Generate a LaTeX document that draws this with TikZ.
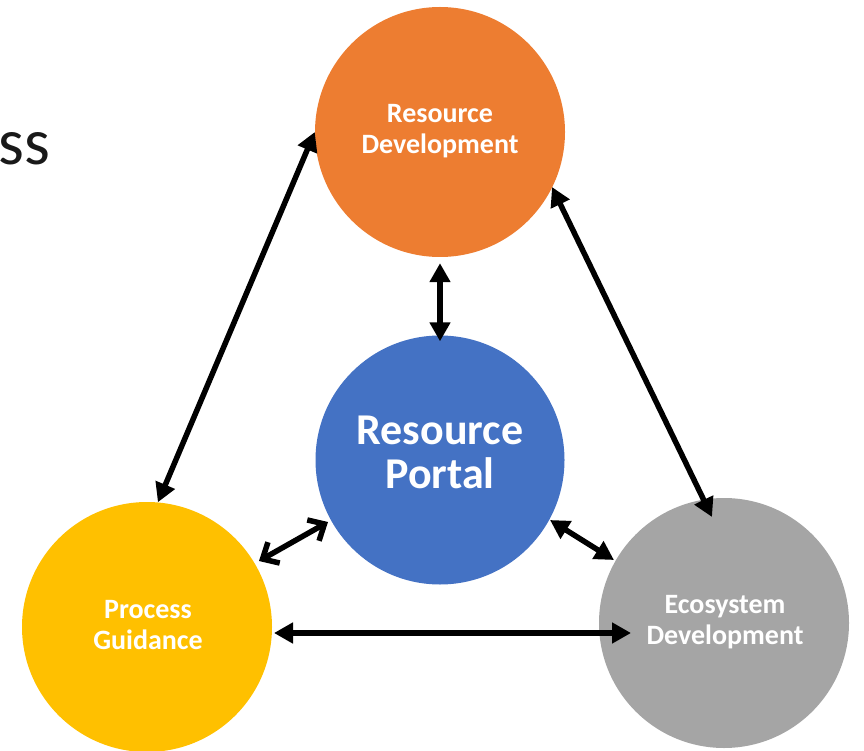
\documentclass[tikz,border=0pt]{standalone}
\usepackage{fontspec}
\setmainfont{Carlito}
\usetikzlibrary{arrows.meta,calc}
\definecolor{cOrange}{HTML}{ED7D31}
\definecolor{cBlue}{HTML}{4472C4}
\definecolor{cYellow}{HTML}{FFC000}
\definecolor{cGray}{HTML}{A5A5A5}
\tikzset{
  bubble/.style={circle,inner sep=0pt,minimum size=250pt,draw=none},
  lbl/.style={text=white,font=\bfseries\fontsize{28}{31}\selectfont,align=center,inner sep=0pt},
  biglbl/.style={text=white,font=\bfseries\fontsize{44}{44}\selectfont,align=center,inner sep=0pt},
  link/.style={line width=5.5pt,{Triangle[length=19pt,width=20pt]}-{Triangle[length=19pt,width=20pt]}},
  openlink/.style={line width=5.5pt,line cap=round,{Straight Barb[length=13pt,width=24pt,line width=5.5pt]}-{Straight Barb[length=13pt,width=24pt,line width=5.5pt]}}
}
\begin{document}
\begin{tikzpicture}[x=1pt,y=-1pt]
\useasboundingbox (0,0) rectangle (864,751);
\node[bubble,fill=cOrange] (orange) at (440,132) {};
\node[bubble,fill=cBlue,minimum size=249pt] (blue) at (440,460) {};
\node[bubble,fill=cYellow] (yellow) at (147,627) {};
\node[bubble,fill=cGray] (gray) at (724,623) {};
\node[lbl] (orangeT) at (440,131) {Resource\\Development};
\node[biglbl] (blueT) at (440,452) {Resource\\Portal};
\node[lbl] (yellowT) at (148,625) {Process\\Guidance};
\node[lbl] (grayT) at (725,622) {Ecosystem\\Development};
\node[anchor=base west,inner sep=0pt,font=\fontsize{66}{66}\selectfont,text=black!90] (ss) at (-2,165) {ss};
\draw[link] (orange.west) -- (yellow.85);
\draw[link] ($(orange.center)+(112,55)$) -- ($(gray.center)+(-12,-106)$);
\draw[link] ($(orange.south)+(0,6)$) -- ($(blue.north)+(0,6)$);
\draw[openlink] ($(yellow.center)+(112,-66)$) -- ($(blue.center)+(-112,62)$);
\draw[link] ($(blue.center)+(110,60)$) -- ($(gray.center)+(-110,-63)$);
\draw[link] ($(yellow.center)+(127,6)$) -- ($(gray.center)+(-93,10)$);
\end{tikzpicture}
\end{document}
